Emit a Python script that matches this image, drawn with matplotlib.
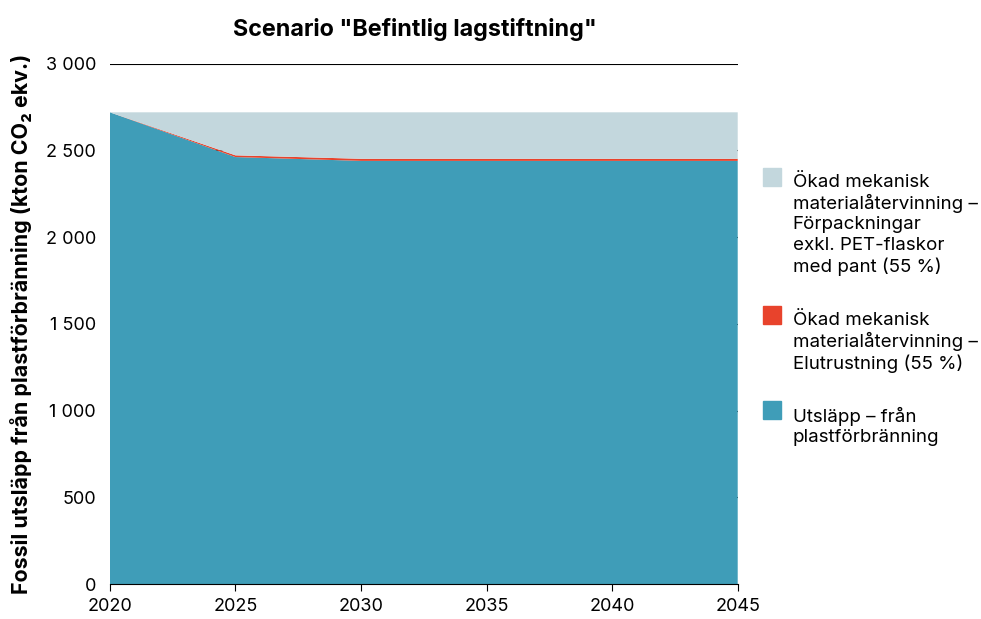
import matplotlib.pyplot as plt
from matplotlib.ticker import FuncFormatter
from matplotlib.patches import Rectangle

plt.rcParams['font.family'] = ['Inter', 'DejaVu Sans']

years = [2020, 2025, 2030, 2035, 2040, 2045]
# kton CO2 ekv. per year, stacked bottom to top
utslapp = [2720, 2462, 2440, 2440, 2440, 2440]
elutrustning = [0, 10, 12, 12, 12, 12]
forpackningar = [0, 248, 268, 268, 268, 268]

labels = [
    "Utsläpp – från\nplastförbränning",
    "Ökad mekanisk\nmaterialåtervinning –\nElutrustning (55 %)",
    "Ökad mekanisk\nmaterialåtervinning –\nFörpackningar\nexkl. PET-flaskor\nmed pant (55 %)",
]
colors = ['#3f9db8', '#e8432c', '#c3d7dd']

fig = plt.figure(figsize=(9.81, 6.19), dpi=100)
ax = fig.add_axes([0.112, 0.0565, 0.64, 0.8405])

ax.stackplot(years, utslapp, elutrustning, forpackningar, colors=colors, linewidth=0, zorder=2)

ax.set_xlim(2020, 2045)
ax.set_ylim(0, 3000)
ax.set_xticks(years)
ax.set_yticks(range(0, 3001, 500))
ax.yaxis.set_major_formatter(FuncFormatter(lambda v, p: f"{int(v):,}".replace(",", " ")))
ax.grid(axis='y', color='black', linewidth=0.8, zorder=0)
ax.set_axisbelow(True)
for s in ['top', 'right', 'left']:
    ax.spines[s].set_visible(False)
ax.spines['bottom'].set_color('black')
ax.tick_params(axis='y', length=0, labelsize=13, pad=10)
ax.tick_params(axis='x', length=5, labelsize=13, color='black', pad=5)

ax.set_ylabel("Fossil utsläpp från plastförbränning (kton CO₂ ekv.)", fontsize=15.4,
              fontweight='bold', labelpad=10)
ax.set_title('Scenario "Befintlig lagstiftning"', fontsize=16.8, fontweight='bold', pad=20,
             x=0.486)

# legend drawn by hand, top entry first
legend_items = [
    (labels[2], colors[2], 0.7286),
    (labels[1], colors[1], 0.5057),
    (labels[0], colors[0], 0.352),
]
for text, col, ytop in legend_items:
    fig.patches.append(Rectangle((0.778, ytop - 0.029), 0.018, 0.029, color=col,
                                 transform=fig.transFigure, figure=fig))
    fig.text(0.808, ytop - 0.009, text, fontsize=13.5, va='top', ha='left', linespacing=1.24)

fig.savefig('out.png', dpi=100)
